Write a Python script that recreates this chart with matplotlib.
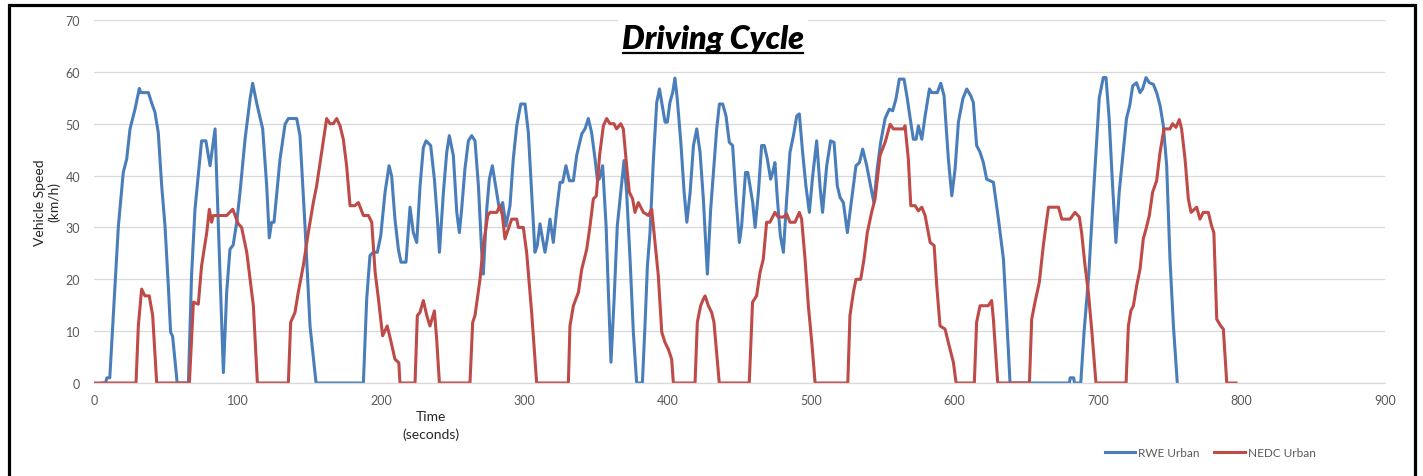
import matplotlib
matplotlib.use('Agg')
import matplotlib.pyplot as plt
from matplotlib.patches import Rectangle
from matplotlib.lines import Line2D

# RWE Urban (blue) - time in seconds, speed in km/h
rwe_time = [6, 8, 9, 11, 14.6, 17, 20.4, 22.8, 25.1, 28.6, 31.6, 32.6, 37.9, 40.2, 42.5, 44.8, 47.2,
            49.5, 51.8, 53.4, 54.8, 58, 65.8, 68, 70.4, 72.7, 75, 78, 80.9, 84.4, 86.7, 90.2, 92.5,
            94.8, 97, 99.5, 101.8, 105.3, 108.8, 110.6, 113.4, 117.6, 120.4, 122.2, 123.8, 125.5,
            129.7, 133.2, 135.5, 141.3, 143.6, 147.1, 150.6, 154.8, 187.8, 190.1, 192.4, 194.7,
            197.5, 199.9, 202.9, 205.7, 207.5, 209.8, 212.2, 214, 217.5, 220.3, 222.6, 225, 227.3,
            229.6, 231.5, 234.7, 237.3, 239.4, 240.8, 243.6, 245.9, 247.7, 250.5, 252.9, 254.7,
            256.3, 258.6, 261, 263.3, 265.6, 268, 270.3, 271.4, 273.8, 275.6, 277.7, 280, 282.6,
            284.9, 287.2, 290, 292.3, 294.7, 297.5, 300.5, 302.8, 305.1, 307.4, 309, 310.9, 312.7,
            314.4, 316, 317.9, 320.2, 322.6, 324.9, 326.7, 329, 331.4, 334.2, 336.5, 340, 342.3,
            344.6, 346.9, 349.3, 351, 352.5, 354.6, 357, 358.6, 360.4, 362.5, 364.8, 367.2, 369.5,
            371.3, 373.7, 376, 378.3, 382.3, 384.1, 385.8, 387.6, 390, 392.3, 394.2, 395.8, 398.1,
            399.7, 401.5, 403.4, 405, 406.6, 409.1, 411.4, 413.3, 415.6, 417.9, 420.2, 422.5,
            424.8, 427.6, 429.9, 432.2, 434.1, 436, 438.3, 440.6, 442.9, 445.2, 447.6, 449.9,
            451.5, 454.2, 455.8, 457.3, 459.2, 460.9, 463.2, 465.4, 467.3, 469.4, 471.7, 473.1,
            474.7, 476.4, 478.5, 480.6, 482.9, 485.2, 487.6, 489.9, 491.7, 494, 496.3, 498.7, 501,
            503.8, 506.1, 507.9, 510.8, 513.5, 515.9, 518.2, 520.1, 522.4, 525.2, 528.2, 531.2,
            533.6, 535.9, 538.7, 541.4, 543.7, 546, 548.4, 551.5, 554.4, 556.8, 559.1, 561.4,
            564.7, 567, 569, 571.2, 573.1, 574.7, 577.1, 579.4, 582.4, 584, 587.9, 590.3, 592.6,
            595.6, 598, 600.3, 602.6, 605.7, 608.4, 611.2, 613, 615.3, 617.7, 620, 622.3, 627,
            630.5, 634, 636.3, 638.6, 680, 680.5, 683, 683.5, 687.9, 690.2, 693.5, 696, 698.5,
            700.8, 703.6, 705.5, 707.7, 710.1, 712.4, 714.7, 717.5, 719.8, 722.1, 724.1, 726.8,
            729.2, 731, 733.4, 735.7, 738.5, 740.8, 743.2, 745.5, 747.8, 750.1, 752.5, 755.2]
rwe_speed = [0, 0, 1, 1, 18.8, 30.3, 40.6, 43.2, 49, 52.8, 56.8, 56, 56, 54, 52.2, 48.3, 38,
             30.3, 18.8, 9.8, 9, 0, 0, 20.7, 33.5, 40, 46.7, 46.7, 41.9, 49, 30.3, 2, 17.5,
             25.8, 26.6, 31, 36.8, 47, 54.8, 57.8, 54, 49, 38, 28, 31, 31,
             43.2, 49.9, 51, 51, 47.7, 30.3, 11, 0, 0, 16.2, 24.6, 25.2,
             25.2, 28.4, 36.8, 41.9, 39.9, 31.6, 25.8, 23.3, 23.3, 33.9, 29, 27.1, 38,
             45.4, 46.7, 45.8, 39.3, 31.6, 25.2, 36.8, 44.5, 47.7, 43.9, 32.9, 29,
             33.5, 41.3, 46.7, 47.7, 46.7, 38, 25.2, 21, 33.5, 39.3, 41.9, 38, 33.5,
             34.8, 30.3, 34.2, 43.2, 49.6, 53.8, 53.8, 48.3, 36.8, 25.2, 26.5, 30.7, 27.8,
             25.2, 27.8, 31.6, 27.1, 33.5, 38.7, 38.7, 41.9, 39, 39, 43.9, 48, 49,
             51, 48.3, 43.2, 39, 39.5, 41.9, 30.3, 17.5, 4, 15.6, 30.3, 36.8, 42.9,
             36.8, 23.9, 9.8, 0, 0, 11, 22.6, 29, 43.2, 54.1, 56.7, 54.1, 50.3,
             50.3, 54.1, 56, 58.8, 54.8, 46.4, 36.8, 31, 36.8, 45.8, 49, 44.5,
             35.5, 21, 33.5, 41.9, 49, 53.8, 53.8, 51.5, 46.4, 45.8, 35.5, 27.1,
             30.3, 40.6, 40.6, 38, 34.8, 30, 36.8, 45.8, 45.8, 43.2, 39.3, 40.6,
             42.5, 35.5, 28.4, 25.2, 35.5, 44.5, 47.7, 51.5, 51.9, 44.5, 38, 32.9, 39.9,
             46.7, 38, 32.9, 41.9, 46.7, 46.4, 38, 35.8, 34.8, 29, 35.5, 41.9,
             42.5, 45.1, 41.9, 38, 34.8, 41.3, 46.4, 51, 52.8, 52.5, 54.8, 58.6,
             58.6, 54.8, 51, 47, 47, 49.6, 47, 51.5, 56.7, 56, 56, 57.8, 55.4,
             43.2, 36.1, 41.3, 50.3, 54.8, 56.7, 55.4, 54.1, 45.8, 44.5, 42.5, 39.3, 38.7,
             31.6, 23.9, 12.3, 0, 0, 1, 1, 0, 0, 9.8, 21, 33, 44.5,
             55, 58.9, 58.9, 51, 38, 27.1, 36.8, 44.5, 51, 53.6, 57.3, 57.9,
             56, 56.7, 58.9, 57.9, 57.6, 56, 53.5, 49.6, 41.9, 23.9, 11, 0]

# NEDC Urban (red)
nedc_time = [0, 29.3, 30.9, 33.2, 35.5, 38.5, 40.9, 43.7, 66.5, 69.3, 72.7, 75, 78.6, 80.4, 82,
             83.2, 92.5, 96.7, 100.6, 102.9, 106.5, 111.1, 113.9, 135.5, 137.1, 140.1, 142.4,
             145.9, 149.4, 152.9, 155.2, 158.7, 162.2, 164.5, 166.8, 169.2, 171.5, 173.8, 176.1,
             178.5, 181.9, 184.3, 187.8, 191.3, 193.6, 196, 198.3, 201.2, 204.4, 206.7, 209.8,
             212.5, 213.3, 223.8, 225.4, 227.2, 229.6, 232, 234.2, 237.3, 238.9, 240.8, 262.1,
             264, 265.6, 269.1, 271.4, 274.5, 276.1, 280.8, 283, 284.7, 286.5, 288.8, 291.2,
             294.7, 295.8, 299.3, 301.6, 305.1, 308.6, 330.7, 331.8, 334.2, 337.7, 340, 343.5,
             345.8, 348.1, 350.2, 352.5, 355.1, 357.4, 359.7, 362.5, 364.3, 367.2, 369, 371.3,
             373.2, 375.5, 377.1, 379.5, 383, 386.5, 388.8, 391.1, 393.4, 395.8, 398.1, 400.4,
             402.7, 403.9, 419, 420.6, 422.9, 424.8, 426, 428.3, 430.6, 432.2, 435.9, 456.8,
             459.1, 461.9, 464.3, 466.6, 468.9, 471.2, 474.7, 477, 480.6, 482.9, 485.2, 488.7,
             491.7, 493.3, 495.7, 498, 500.4, 502.7, 525.5, 527, 529.4, 531.2, 534.5, 536.8,
             539.1, 542.1, 544.5, 548, 551.5, 555, 557.3, 564.2, 565.4, 567.7, 569.4, 572.4,
             574.7, 577.1, 579.4, 582.9, 585.7, 587.5, 589.8, 593.3, 595.6, 599.1, 601, 613.7,
             615.3, 617.7, 623.4, 625.8, 627, 630, 652.1, 653.7, 656, 659, 661.8, 663.6, 665.4,
             672.4, 674.7, 680.4, 683.9, 686.9, 688.5, 690.9, 693.2, 695.5, 698.5, 719.5, 721.1,
             722.8, 724.6, 726.9, 729.2, 731.5, 733.4, 735.7, 738, 740.8, 743.2, 745.9, 750.1,
             751.9, 754.3, 756.6, 758.2, 760.6, 762.9, 764.8, 768.7, 771, 773.3, 776.8, 779.1,
             780.7, 782.7, 785.5, 787.3, 789.7, 796.2]
nedc_speed = [0, 0, 11, 18.1, 16.8, 16.8, 13, 0, 0, 15.6, 15.2, 22.6, 29, 33.5, 31,
              32.3, 32.3, 33.5, 30.7, 30, 25.2, 14.9, 0, 0, 11.7, 13.6, 17.5,
              22.6, 29, 34.8, 38, 44.5, 51, 50, 50, 51, 49.6, 47, 41.9,
              34.2, 34.2, 34.8, 32.3, 32.3, 31, 21.3, 16.2, 9.1, 11, 8.4, 4.6,
              3.9, 0, 0, 13, 13.6, 15.9, 13, 11, 13.9, 8.4, 0, 0,
              11.7, 13, 20, 26.5, 32.3, 32.9, 32.9, 34.2, 32.3, 27.8, 29.7, 31.6,
              31.6, 30, 30, 25.2, 13.6, 0, 0, 11, 14.9, 17.5, 21.9, 25.8,
              30.3, 35.5, 36.1, 44, 49.6, 51, 50, 50, 49, 50, 49, 41.9,
              36.8, 35.5, 32.9, 34.8, 32.9, 32.3, 33.5, 27.1, 20.7, 9.8, 7.8, 6.5,
              4.6, 0, 0, 11.7, 14.9, 16.2, 16.8, 14.9, 13.6, 11.7, 0, 0,
              15.6, 16.8, 21.3, 23.9, 31, 31, 32.9, 32, 32, 32.6, 31, 31,
              32.9, 31.6, 23.9, 14.9, 7.8, 0, 0, 13, 17.5, 20, 20, 23.9,
              29, 32.9, 35.5, 43.9, 46.4, 49.9, 49, 49, 49.6, 43.2, 34.2, 34.2,
              33.2, 33.9, 32.3, 27.1, 26.5, 18.8, 11, 10.4, 7.8, 4, 0, 0,
              11.7, 14.9, 14.9, 15.9, 12.3, 0, 0, 12.3, 15.6, 19.4, 26.5, 30.3, 33.9,
              33.9, 31.6, 31.6, 32.9, 32, 29, 22.6, 17.5, 10.4, 0, 0, 11,
              13.9, 14.9, 18.8, 21.9, 27.8, 29.7, 32.3, 36.8, 39, 44.5, 49, 49,
              50, 49.3, 50.8, 49, 43.2, 35.5, 32.9, 33.9, 31.6, 32.9, 32.9, 30.3,
              29, 12.3, 11, 10.4, 0, 0]

x_ticks = [0, 100, 200, 300, 400, 500, 600, 700, 800, 900]
y_ticks = [0, 10, 20, 30, 40, 50, 60, 70]

plt.rcParams['font.family'] = ['Lato', 'DejaVu Sans']

fig = plt.figure(figsize=(14.23, 4.77), dpi=100)
ax = fig.add_axes([94 / 1423, 1 - 384 / 477, (1385 - 94) / 1423, (384 - 21) / 477])

ax.plot(rwe_time, rwe_speed, color='#4a7ebb', linewidth=2.2, label='RWE Urban', solid_joinstyle='round')
ax.plot(nedc_time, nedc_speed, color='#be4b48', linewidth=2.2, label='NEDC Urban', solid_joinstyle='round')

ax.set_xlim(0, 900)
ax.set_ylim(0, 70)
ax.set_xticks(x_ticks)
ax.set_yticks(y_ticks)
ax.tick_params(axis='both', length=0, labelsize=9, labelcolor='#595959')
ax.tick_params(axis='y', pad=10)
ax.tick_params(axis='x', pad=8)
ax.grid(axis='y', color='#d9d9d9', linewidth=0.9)
ax.set_axisbelow(True)
for side in ['top', 'right', 'left']:
    ax.spines[side].set_visible(False)
ax.spines['bottom'].set_color('#d9d9d9')
ax.spines['bottom'].set_linewidth(0.9)

ax.set_ylabel('Vehicle Speed\n(km/h)', fontsize=10, color='#262626', linespacing=1.1)
ax.yaxis.set_label_coords((60 - 94) / 1291, 0.5)
ax.set_xlabel('Time\n(seconds)', fontsize=10, color='#262626', linespacing=1.45)
ax.xaxis.set_label_coords((431 - 94) / 1291, -0.075)
ax.xaxis.label.set_va('top')

title = fig.text(713 / 1423, 1 - 40 / 477, 'Driving Cycle', fontsize=23, fontweight='heavy',
                 fontstyle='italic', ha='center', va='center', color='black',
                 bbox=dict(facecolor='white', edgecolor='none', pad=3))

leg = fig.legend(loc='center', bbox_to_anchor=(1210 / 1423, 1 - 454 / 477), ncol=2, frameon=False,
                 fontsize=8.5, handlelength=2.6, handletextpad=0.2, columnspacing=1.3)
for txt in leg.get_texts():
    txt.set_color('#595959')
for line in leg.get_lines():
    line.set_linewidth(2.2)

# black frame around the chart
fig.patches.append(Rectangle((9 / 1423, -0.1), (1415 - 9) / 1423, 1.1 - 6 / 477,
                             transform=fig.transFigure, fill=False, edgecolor='black',
                             linewidth=2.3, clip_on=False))

# underline the title
fig.canvas.draw()
bb = title.get_window_extent(renderer=fig.canvas.get_renderer())
inv = fig.transFigure.inverted()
x0, y0 = inv.transform((bb.x0 + 1, bb.y0))
x1, _ = inv.transform((bb.x1 - 1, bb.y0))
fig.lines.append(Line2D([x0, x1], [y0 + 1 / 477, y0 + 1 / 477], transform=fig.transFigure,
                        color='black', linewidth=1.6, zorder=10))

fig.savefig('out.png', dpi=100)
